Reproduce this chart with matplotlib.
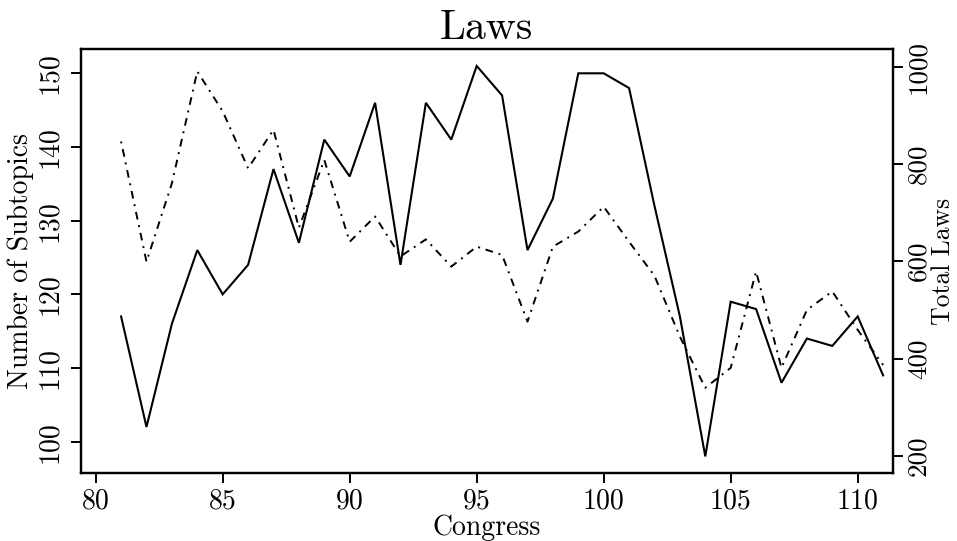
import matplotlib
matplotlib.use("Agg")
import matplotlib.pyplot as plt

plt.rcParams['font.family'] = ['cmr10', 'DejaVu Serif']
plt.rcParams['axes.formatter.use_mathtext'] = True

congress = list(range(81, 112))
subtopics = [117, 102, 116, 126, 120, 124, 137, 127, 141, 136,
             146, 124, 146, 141, 151, 147, 126, 133, 150, 150,
             148, 132, 117, 98, 119, 118, 108, 114, 113, 117, 109]
total_laws = [846, 599, 760, 990, 908, 791, 870, 669, 808, 640,
              692, 610, 645, 589, 630, 613, 476, 630, 661, 712,
              640, 570, 445, 340, 381, 579, 381, 500, 538, 459, 387]

x_ticks = [80, 85, 90, 95, 100, 105, 110]
left_ticks = [100, 110, 120, 130, 140, 150]
right_ticks = [200, 400, 600, 800, 1000]

W, H = 957, 541
fig = plt.figure(figsize=(W / 100, H / 100), dpi=100)
ax = fig.add_axes([80.7 / W, 1 - 473 / H, (893 - 80.7) / W, (473 - 49) / H])
ax2 = ax.twinx()

ax.plot(congress, subtopics, color='black', lw=1.5, solid_joinstyle='miter')
ax2.plot(congress, total_laws, color='black', lw=1.4,
         linestyle=(0, (1.0, 3.0, 4.0, 3.0)))

ax.set_xlim(79.41, 111.39)
ax.set_ylim(95.75, 153.3)
ax2.set_ylim(165, 1036)

fs = 20
ax.set_xticks(x_ticks)
ax.set_xticklabels([str(v) for v in x_ticks], fontsize=fs)
ax.set_yticks(left_ticks)
ax.set_yticklabels([str(v) for v in left_ticks], fontsize=fs, rotation=90, va='center')
ax2.set_yticks(right_ticks)
ax2.set_yticklabels([str(v) for v in right_ticks], fontsize=19.5, rotation=90, va='center')

for a in (ax, ax2):
    a.tick_params(direction='out', length=7, width=1.4, pad=4)
    for s in a.spines.values():
        s.set_linewidth(1.6)
ax.tick_params(axis='y', pad=6)
ax2.tick_params(axis='y', pad=3)

ax.set_title('Laws', fontsize=30, pad=7)
ax.set_xlabel('Congress', fontsize=fs)
ax.xaxis.set_label_coords(0.5, -0.098)
ax.set_ylabel('Number of Subtopics', fontsize=fs)
ax.yaxis.set_label_coords(-0.058, 0.5)
ax2.set_ylabel('Total Laws', fontsize=18.5, rotation=90)
ax2.yaxis.set_label_coords(1.0465, 0.5)

fig.savefig('out.png', dpi=100)
